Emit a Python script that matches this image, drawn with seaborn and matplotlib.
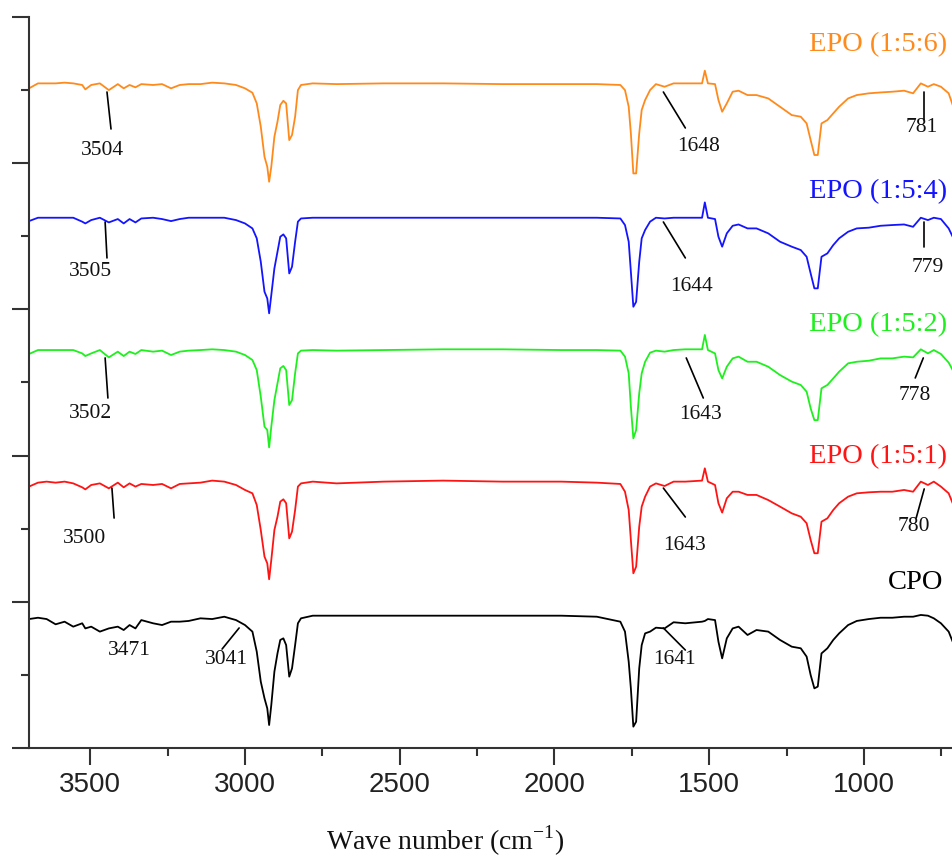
import matplotlib
matplotlib.use("Agg")
import matplotlib.pyplot as plt
from matplotlib.ticker import MultipleLocator, FixedLocator
import seaborn as sns
import pandas as pd

# ---------------- data ----------------
wavenumber = [3698, 3669, 3641, 3612, 3583, 3555, 3526, 3516, 3497, 3469,
              3440, 3411, 3392, 3373, 3354, 3335, 3297, 3268, 3239, 3211,
              3182, 3144, 3106, 3067, 3029, 3000, 2976, 2962, 2949, 2937,
              2928, 2922, 2915, 2905, 2895, 2886, 2876, 2867, 2857, 2848,
              2838, 2829, 2819, 2781, 2704, 2551, 2360, 2169, 1978, 1863,
              1787, 1772, 1760, 1753, 1745, 1736, 1726, 1718, 1707, 1691,
              1672, 1644, 1615, 1577, 1523, 1514, 1504, 1481, 1470, 1458,
              1443, 1424, 1405, 1376, 1347, 1309, 1271, 1233, 1204, 1185,
              1172, 1160, 1149, 1137, 1118, 1099, 1080, 1051, 1023, 984,
              946, 908, 870, 841, 816, 793, 774, 751, 726, 713,
              701]

epo_156 = [4.512, 4.546, 4.546, 4.546, 4.551, 4.546, 4.535, 4.505, 4.535, 4.546,
           4.500, 4.541, 4.512, 4.535, 4.519, 4.541, 4.535, 4.541, 4.512, 4.535,
           4.541, 4.541, 4.551, 4.546, 4.535, 4.512, 4.482, 4.409, 4.250, 4.044,
           3.976, 3.873, 3.976, 4.181, 4.284, 4.398, 4.427, 4.409, 4.158, 4.193,
           4.318, 4.500, 4.535, 4.546, 4.541, 4.546, 4.546, 4.541, 4.541, 4.541,
           4.535, 4.500, 4.386, 4.204, 3.930, 3.930, 4.204, 4.364, 4.432, 4.500,
           4.541, 4.523, 4.546, 4.546, 4.546, 4.633, 4.546, 4.541, 4.432, 4.352,
           4.409, 4.489, 4.496, 4.466, 4.466, 4.443, 4.386, 4.329, 4.318, 4.272,
           4.158, 4.056, 4.056, 4.272, 4.295, 4.341, 4.386, 4.443, 4.466, 4.478,
           4.484, 4.489, 4.496, 4.478, 4.546, 4.523, 4.541, 4.523, 4.478, 4.398,
           4.386]

epo_154 = [3.604, 3.627, 3.627, 3.627, 3.627, 3.627, 3.600, 3.588, 3.611, 3.627,
           3.595, 3.618, 3.588, 3.618, 3.595, 3.622, 3.627, 3.618, 3.604, 3.618,
           3.627, 3.627, 3.627, 3.627, 3.611, 3.588, 3.554, 3.486, 3.326, 3.121,
           3.075, 2.973, 3.098, 3.280, 3.394, 3.497, 3.513, 3.486, 3.246, 3.292,
           3.463, 3.600, 3.622, 3.627, 3.627, 3.627, 3.627, 3.627, 3.627, 3.627,
           3.622, 3.577, 3.463, 3.258, 3.018, 3.052, 3.326, 3.486, 3.543, 3.600,
           3.627, 3.622, 3.627, 3.627, 3.627, 3.732, 3.627, 3.618, 3.497, 3.429,
           3.520, 3.572, 3.581, 3.554, 3.554, 3.520, 3.463, 3.429, 3.406, 3.360,
           3.246, 3.144, 3.144, 3.360, 3.383, 3.440, 3.486, 3.531, 3.554, 3.559,
           3.572, 3.577, 3.581, 3.565, 3.627, 3.611, 3.627, 3.618, 3.554, 3.497,
           3.486]

epo_152 = [2.695, 2.722, 2.722, 2.722, 2.722, 2.722, 2.699, 2.681, 2.699, 2.722,
           2.672, 2.711, 2.681, 2.711, 2.695, 2.722, 2.711, 2.718, 2.688, 2.711,
           2.718, 2.722, 2.727, 2.722, 2.711, 2.688, 2.654, 2.585, 2.403, 2.198,
           2.175, 2.056, 2.198, 2.380, 2.494, 2.597, 2.613, 2.585, 2.346, 2.380,
           2.563, 2.699, 2.718, 2.722, 2.718, 2.722, 2.727, 2.727, 2.722, 2.722,
           2.718, 2.677, 2.563, 2.335, 2.118, 2.175, 2.426, 2.563, 2.642, 2.704,
           2.718, 2.711, 2.722, 2.727, 2.727, 2.825, 2.722, 2.699, 2.585, 2.528,
           2.608, 2.665, 2.677, 2.642, 2.642, 2.608, 2.551, 2.506, 2.483, 2.437,
           2.323, 2.243, 2.243, 2.460, 2.483, 2.528, 2.574, 2.631, 2.642, 2.649,
           2.665, 2.665, 2.677, 2.672, 2.727, 2.699, 2.722, 2.695, 2.636, 2.585,
           2.567]

epo_151 = [1.788, 1.815, 1.822, 1.815, 1.822, 1.810, 1.783, 1.769, 1.799, 1.810,
           1.776, 1.815, 1.783, 1.810, 1.788, 1.806, 1.799, 1.806, 1.776, 1.806,
           1.810, 1.815, 1.829, 1.822, 1.799, 1.765, 1.742, 1.662, 1.491, 1.309,
           1.263, 1.154, 1.286, 1.491, 1.582, 1.685, 1.701, 1.674, 1.434, 1.480,
           1.628, 1.788, 1.810, 1.822, 1.810, 1.822, 1.829, 1.822, 1.822, 1.815,
           1.806, 1.753, 1.628, 1.423, 1.195, 1.240, 1.514, 1.651, 1.719, 1.788,
           1.810, 1.792, 1.822, 1.822, 1.829, 1.913, 1.822, 1.799, 1.674, 1.610,
           1.708, 1.753, 1.753, 1.731, 1.731, 1.696, 1.651, 1.605, 1.582, 1.537,
           1.423, 1.332, 1.332, 1.548, 1.571, 1.628, 1.674, 1.719, 1.742, 1.749,
           1.753, 1.753, 1.765, 1.753, 1.822, 1.799, 1.822, 1.788, 1.742, 1.674,
           1.662]

cpo = [0.882, 0.891, 0.882, 0.846, 0.864, 0.830, 0.853, 0.818, 0.830, 0.796,
       0.818, 0.830, 0.807, 0.841, 0.818, 0.875, 0.853, 0.841, 0.864, 0.864,
       0.869, 0.887, 0.882, 0.898, 0.875, 0.841, 0.796, 0.659, 0.454, 0.340,
       0.271, 0.157, 0.294, 0.522, 0.647, 0.739, 0.750, 0.704, 0.488, 0.545,
       0.704, 0.853, 0.887, 0.905, 0.905, 0.905, 0.905, 0.905, 0.905, 0.898,
       0.864, 0.796, 0.590, 0.408, 0.146, 0.180, 0.545, 0.704, 0.784, 0.796,
       0.823, 0.818, 0.860, 0.853, 0.864, 0.869, 0.882, 0.875, 0.727, 0.613,
       0.750, 0.818, 0.830, 0.773, 0.807, 0.796, 0.739, 0.693, 0.682, 0.625,
       0.499, 0.408, 0.420, 0.647, 0.682, 0.739, 0.784, 0.841, 0.869, 0.882,
       0.891, 0.891, 0.898, 0.898, 0.910, 0.905, 0.887, 0.853, 0.796, 0.727,
       0.716]

series_names = ["EPO (1:5:6)", "EPO (1:5:4)", "EPO (1:5:2)", "EPO (1:5:1)", "CPO"]
series_values = [epo_156, epo_154, epo_152, epo_151, cpo]
series_colors = ["#FF8A1C", "#1414FF", "#1EF01E", "#FF1414", "#000000"]

# series label positions (wavenumber, y)
series_label_pos = [(730, 4.808), (730, 3.803), (730, 2.893), (730, 1.990), (743, 1.129)]

# peak annotations: text, leader line start (x,y), leader line end (x,y), text position (x,y)
peak_text = ["3504", "1648", "781",
             "3505", "1644", "779",
             "3502", "1643", "778",
             "3500", "1643", "780",
             "3471", "3041", "1641"]
peak_line = [((3446, 4.487), (3433, 4.234)), ((1648, 4.487), (1577, 4.241)), ((805, 4.487), (805, 4.295)),
             ((3452, 3.598), (3446, 3.352)), ((1648, 3.598), (1577, 3.352)), ((805, 3.598), (805, 3.427)),
             ((3452, 2.668), (3443, 2.394)), ((1574, 2.668), (1519, 2.394)), ((808, 2.668), (834, 2.531)),
             ((3430, 1.778), (3423, 1.573)), ((1648, 1.778), (1577, 1.580)), ((805, 1.772), (831, 1.573)),
             None, ((3019, 0.821), (3074, 0.677)), ((1648, 0.821), (1577, 0.670))]
peak_text_pos = [(3462, 4.090), (1535, 4.111), (814, 4.241),
                 (3498, 3.256), (1558, 3.160), (795, 3.290),
                 (3498, 2.291), (1529, 2.278), (834, 2.414),
                 (3520, 1.430), (1581, 1.382), (840, 1.518),
                 (3375, 0.670), (3061, 0.602), (1613, 0.602)]

x_major = [3500, 3000, 2500, 2000, 1500, 1000]

# ---------------- plotting ----------------
sns.set_theme(style="ticks")
plt.rcParams["font.family"] = ["Liberation Serif", "DejaVu Serif"]

rows = []
for name, vals in zip(series_names, series_values):
    for w, v in zip(wavenumber, vals):
        rows.append({"wavenumber": w, "signal": v, "sample": name})
df = pd.DataFrame(rows)

fig = plt.figure(figsize=(9.53, 8.57), dpi=100)
ax = fig.add_axes([29 / 953, 1 - 748 / 857, 1 - 29 / 953, (748 - 17) / 857])

sns.lineplot(data=df, x="wavenumber", y="signal", hue="sample",
             palette=dict(zip(series_names, series_colors)),
             estimator=None, sort=False, legend=False, linewidth=1.3, ax=ax)

ax.set_xlim(3698, 712)
ax.set_ylim(0, 5)

for name, col, (lx, ly) in zip(series_names, series_colors, series_label_pos):
    ax.text(lx, ly, name, color=col, fontsize=20.5, ha="right", va="center",
            family=["Liberation Serif"])

for txt, ln, pos in zip(peak_text, peak_line, peak_text_pos):
    if ln is not None:
        ax.plot([ln[0][0], ln[1][0]], [ln[0][1], ln[1][1]], color="black", lw=1.2)
    ax.text(pos[0], pos[1], txt, fontsize=15.5, ha="center", va="center",
            color="#111111", family=["Liberation Serif"])

# axes styling
for s in ["top", "right"]:
    ax.spines[s].set_visible(False)
for s in ["left", "bottom"]:
    ax.spines[s].set_color("#333333")
    ax.spines[s].set_linewidth(1.5)

ax.xaxis.set_major_locator(FixedLocator(x_major))
ax.xaxis.set_minor_locator(MultipleLocator(250))
ax.yaxis.set_major_locator(MultipleLocator(1))
ax.yaxis.set_minor_locator(MultipleLocator(0.5))
ax.set_yticklabels([])
ax.tick_params(axis="both", which="major", direction="out", length=12, width=1.5,
               color="#333333")
ax.tick_params(axis="both", which="minor", direction="out", length=6, width=1.5,
               color="#333333")
ax.tick_params(axis="x", which="major", pad=5, labelsize=20, labelcolor="#222222")
for lab in ax.get_xticklabels():
    lab.set_family(["Liberation Sans", "DejaVu Sans"])

ax.set_ylabel("")
ax.set_xlabel(r"Wave number (cm$^{\mathregular{-1}}$)", fontsize=20,
              family=["Liberation Serif"], color="#111111")
ax.xaxis.set_label_coords(0.45, -0.103)

fig.savefig("out.png", dpi=100)
